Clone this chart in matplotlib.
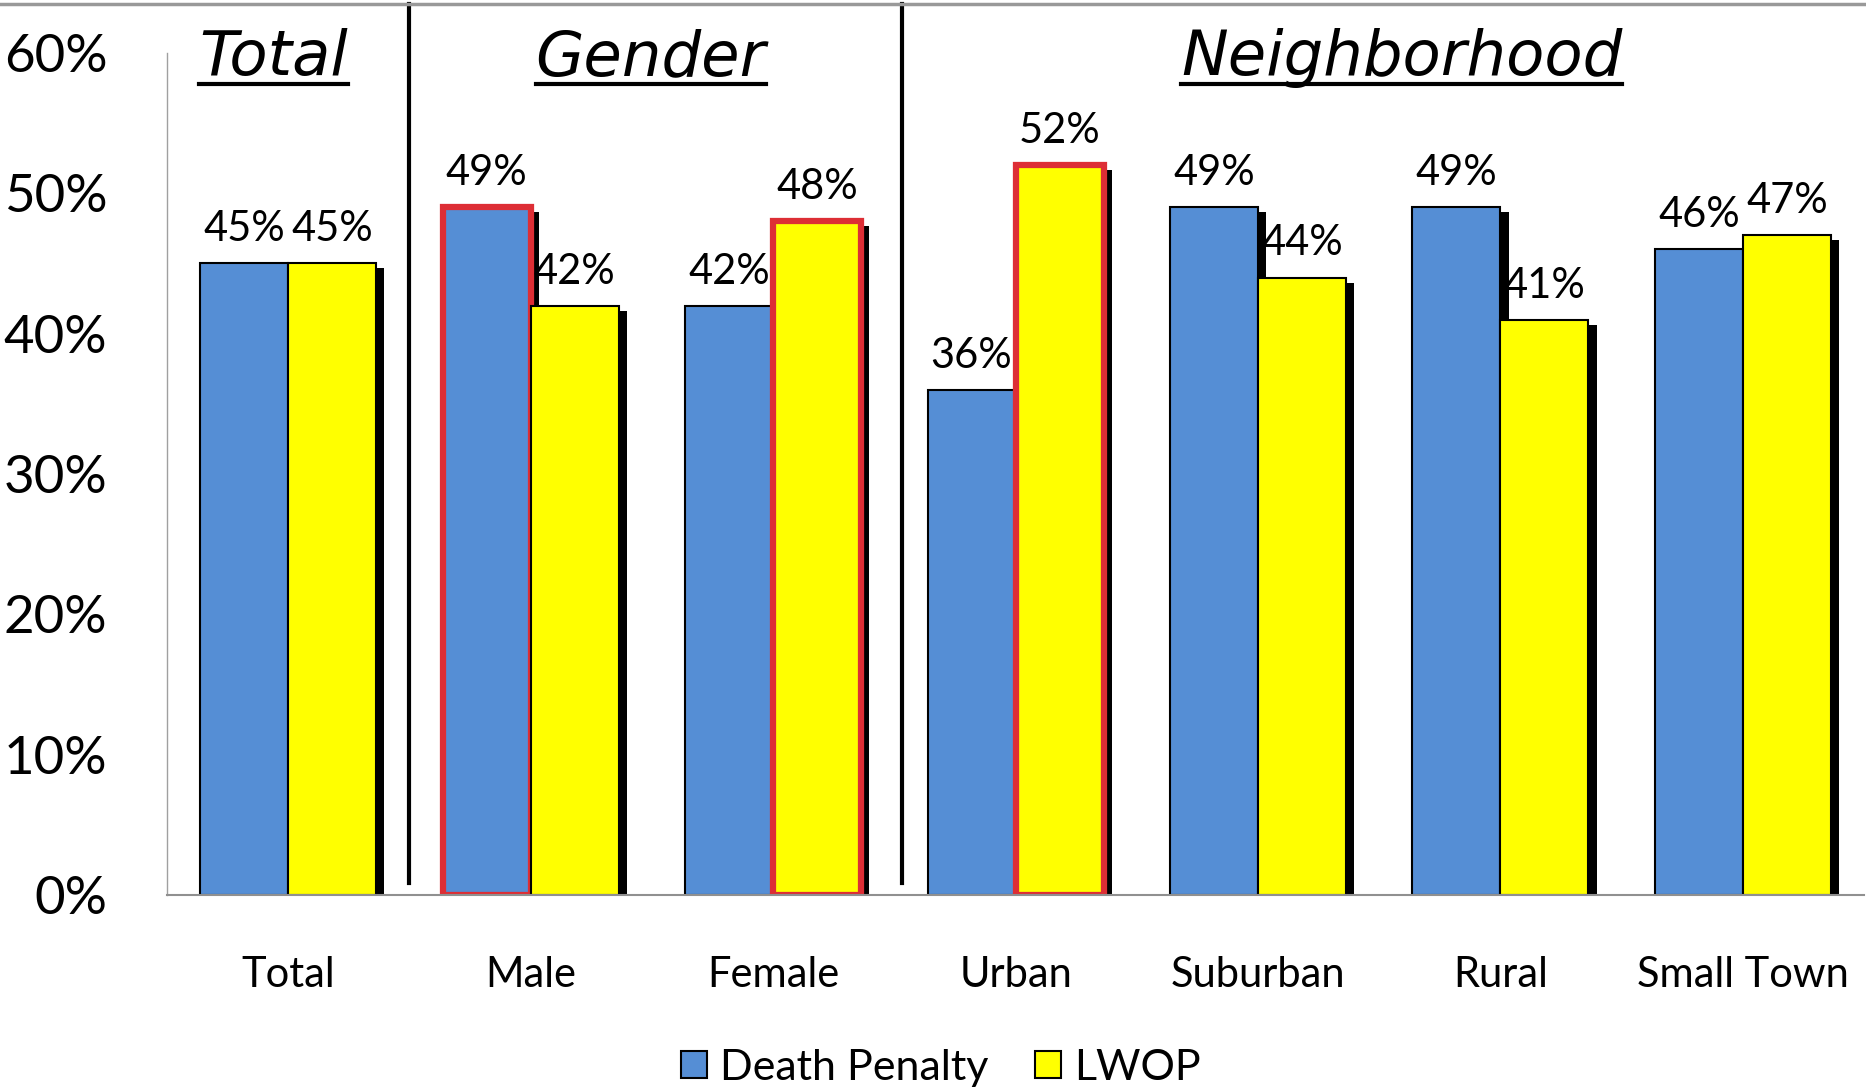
import matplotlib
matplotlib.use("Agg")
import matplotlib.pyplot as plt
import matplotlib.patheffects as pe
from matplotlib.patches import Patch
from matplotlib.lines import Line2D
import numpy as np

plt.rcParams['font.family'] = ['Lato', 'DejaVu Sans']

categories = ["Total", "Male", "Female", "Urban", "Suburban", "Rural", "Small Town"]
death_penalty = [45, 49, 42, 36, 49, 49, 46]
lwop = [45, 42, 48, 52, 44, 41, 47]
# which bars get the red outline
dp_flag = [False, True, False, False, False, False, False]
lwop_flag = [False, False, True, True, False, False, False]
groups = ["Total", "Gender", "Neighborhood"]
group_x = [-0.06, 1.495, 4.593]
separators = [0.5, 2.53]

BLUE = "#558ED5"
YELLOW = "#FFFF00"
RED = "#DD2E35"

fig = plt.figure(figsize=(18.66, 10.88), dpi=100)
ax = fig.add_axes([0.0895, 0.1774, 0.9095, 0.7739])

x = np.arange(len(categories))
w = 0.363
shadow = [pe.SimplePatchShadow(offset=(5.8, -3.6), shadow_rgbFace="black", alpha=1.0), pe.Normal()]

b1 = ax.bar(x - w / 2, death_penalty, w, color=BLUE,
            edgecolor=[RED if f else "black" for f in dp_flag],
            linewidth=[4.5 if f else 1.5 for f in dp_flag])
b2 = ax.bar(x + w / 2, lwop, w, color=YELLOW,
            edgecolor=[RED if f else "black" for f in lwop_flag],
            linewidth=[4.5 if f else 1.5 for f in lwop_flag])
for b in list(b1) + list(b2):
    b.set_path_effects(shadow)

for xs, vals in [(x - w / 2, death_penalty), (x + w / 2, lwop)]:
    for xi, v in zip(xs, vals):
        ax.annotate(f"{v}%", (xi, v), xytext=(0, 24.5), textcoords="offset points",
                    ha="center", va="center", fontsize=30)

ax.set_xlim(-0.5, 6.5)
ax.set_ylim(0, 60)
ax.set_yticks(range(0, 61, 10))
ax.set_yticklabels([f"{t}%" for t in range(0, 61, 10)], fontsize=38)
ax.set_xticks(x)
ax.set_xticklabels(categories, fontsize=30)
ax.tick_params(axis="y", length=0, pad=43)
ax.tick_params(axis="x", length=0, pad=44)
for s in ["top", "right"]:
    ax.spines[s].set_visible(False)
ax.spines["left"].set_color("#A0A0A0")
ax.spines["left"].set_linewidth(1)
ax.spines["bottom"].set_color("#909090")
ax.spines["bottom"].set_linewidth(1.5)

# group separators
for sx in separators:
    ax.plot([sx, sx], [0.014, 1.058], color="black", linewidth=3,
            transform=ax.get_xaxis_transform(), clip_on=False)

# group headers
heads = []
for g, gx in zip(groups, group_x):
    t = ax.text(gx, 0.974, g, transform=ax.get_xaxis_transform(), ha="center",
                va="baseline", fontsize=45, style="italic",
                family=["DejaVu Sans"])
    heads.append(t)

# top border line
fig.add_artist(Line2D([0, 1], [0.9963, 0.9963], color="#999999", linewidth=2.5))

handles = [Patch(facecolor=BLUE, edgecolor="black", linewidth=1.5),
           Patch(facecolor=YELLOW, edgecolor="black", linewidth=1.5)]
fig.legend(handles, ["Death Penalty", "LWOP"], loc="center",
           bbox_to_anchor=(941 / 1866, 1 - 1068 / 1088), ncol=2, frameon=False,
           fontsize=31, handlelength=0.6, handleheight=0.6, handletextpad=0.3,
           columnspacing=1.1)

fig.canvas.draw()
r = fig.canvas.get_renderer()
inv = fig.transFigure.inverted()
for t in heads:
    bb = t.get_window_extent(r)
    base = ax.get_xaxis_transform().transform((0, 0.974))[1]
    y = base - 9
    (x0, y0) = inv.transform((bb.x0, y))
    (x1, _) = inv.transform((bb.x1, y))
    fig.add_artist(Line2D([x0, x1], [y0, y0], color="black", linewidth=3))

fig.savefig("out.png", dpi=100)
